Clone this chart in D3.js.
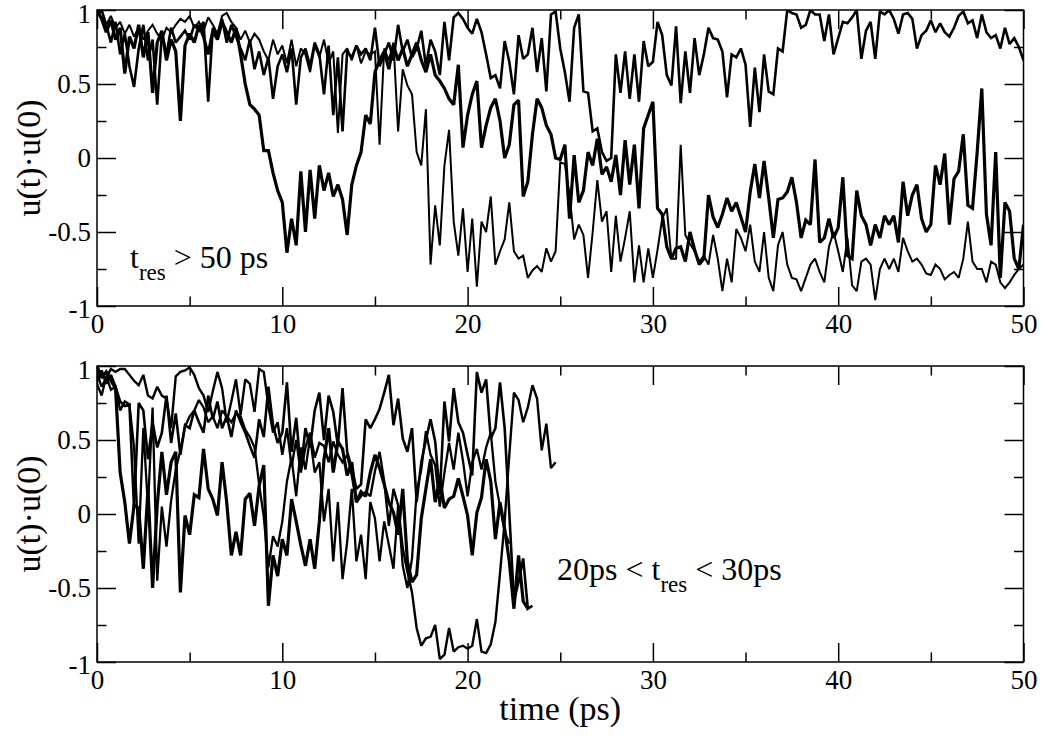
<!DOCTYPE html>
<html>
<head>
<meta charset="utf-8">
<script src="https://cdn.jsdelivr.net/npm/d3@7"></script>
<style>
  body { margin: 0; background: #fff; }
  svg text { font-family: "Liberation Serif", "Times New Roman", serif; fill: #000; }
</style>
</head>
<body>
<div id="chart"></div>
<script>
// sampling step of every trajectory (ps)
const dt = 0.25;

// ---- top panel : t_res > 50 ps (three trajectories, t = 0..50) ----
const topThick = [
  1.00, 0.94, 0.85, 0.93, 0.80, 0.88, 0.57, 0.82, 0.74, 0.90, 0.68, 0.85, 0.44, 0.78, 0.86, 0.66, 0.80, 0.72, 0.25, 0.76,
  0.84, 0.78, 0.90, 0.82, 0.70, 0.86, 0.80, 0.92, 0.85, 0.78, 0.88, 0.70, 0.50, 0.36, 0.33, 0.29, 0.05, 0.05, -0.10, -0.22,
  -0.30, -0.64, -0.41, -0.59, -0.09, -0.50, -0.08, -0.41, -0.05, -0.22, -0.10, -0.26, -0.18, -0.28, -0.52, -0.18, -0.05, 0.04, 0.29, 0.23,
  0.58, 0.66, 0.72, 0.60, 0.76, 0.66, 0.74, 0.62, 0.70, 0.78, 0.66, 0.58, 0.70, 0.56, 0.52, 0.47, 0.40, 0.36, 0.63, 0.07,
  0.29, 0.43, 0.52, 0.07, 0.22, 0.34, 0.40, 0.25, 0.00, 0.09, 0.36, 0.39, -0.26, -0.16, 0.16, 0.40, 0.34, 0.22, 0.16, 0.00,
  -0.01, 0.09, -0.41, 0.02, -0.30, -0.22, 0.04, -0.05, 0.13, -0.11, -0.06, -0.16, 0.02, -0.25, 0.12, -0.18, 0.09, -0.34, 0.20, 0.29,
  0.38, -0.34, -0.38, -0.60, -0.68, -0.61, -0.60, -0.70, -0.50, -0.62, -0.72, -0.68, -0.25, -0.40, -0.47, -0.38, -0.27, -0.36, -0.30, -0.40,
  -0.50, -0.23, -0.04, -0.27, -0.02, -0.27, -0.54, -0.28, -0.27, -0.23, -0.13, -0.30, -0.54, -0.42, -0.45, -0.01, -0.57, -0.54, -0.41, -0.54,
  -0.47, -0.13, -0.66, -0.68, -0.22, -0.39, -0.45, -0.59, -0.45, -0.54, -0.39, -0.45, -0.39, -0.57, -0.16, -0.39, -0.25, -0.18, -0.41, -0.50,
  -0.45, -0.05, -0.18, 0.03, -0.45, -0.14, -0.09, 0.16, -0.32, -0.34, 0.04, 0.47, -0.38, -0.59, 0.04, -0.81, -0.30, -0.36, -0.68, -0.75,
  -0.45
];
const topThin = [
  0.98, 0.95, 0.90, 0.96, 0.88, 0.92, 0.84, 0.90, 0.82, 0.88, 0.80, 0.86, 0.90, 0.84, 0.80, 0.88, 0.85, 0.90, 0.94, 0.92,
  0.96, 0.88, 0.92, 0.86, 0.95, 0.90, 0.84, 0.96, 0.98, 0.92, 0.88, 0.80, 0.86, 0.78, 0.84, 0.80, 0.72, 0.66, 0.80, 0.70,
  0.76, 0.64, 0.80, 0.62, 0.74, 0.70, 0.58, 0.76, 0.68, 0.80, 0.64, 0.72, 0.17, 0.70, 0.74, 0.66, 0.76, 0.64, 0.72, 0.70,
  0.72, 0.09, 0.74, 0.66, 0.78, 0.18, 0.60, 0.49, 0.43, 0.04, -0.05, 0.33, -0.72, -0.32, -0.59, -0.05, 0.19, -0.43, -0.66, -0.34,
  -0.77, -0.41, -0.87, -0.43, -0.50, -0.26, -0.72, -0.63, -0.55, -0.30, -0.63, -0.68, -0.66, -0.81, -0.76, -0.73, -0.77, -0.61, -0.70, -0.63,
  -0.03, -0.04, -0.25, -0.55, -0.45, -0.52, -0.81, -0.50, -0.15, -0.43, -0.36, -0.77, -0.39, -0.70, -0.54, -0.36, -0.84, -0.59, -0.84, -0.61,
  -0.81, -0.62, -0.41, -0.34, -0.68, -0.68, 0.09, -0.52, -0.58, -0.63, -0.70, -0.66, -0.72, -0.52, -0.68, -0.90, -0.68, -0.84, -0.48, -0.54,
  -0.63, -0.45, -0.70, -0.77, -0.50, -0.81, -0.90, -0.59, -0.50, -0.72, -0.81, -0.82, -0.90, -0.81, -0.72, -0.68, -0.77, -0.84, -0.60, -0.50,
  -0.63, -0.77, -0.54, -0.86, -0.90, -0.70, -0.68, -0.72, -0.96, -0.75, -0.68, -0.75, -0.68, -0.77, -0.54, -0.63, -0.70, -0.68, -0.72, -0.78,
  -0.79, -0.72, -0.75, -0.82, -0.79, -0.77, -0.81, -0.68, -0.43, -0.70, -0.75, -0.75, -0.84, -0.70, -0.72, -0.84, -0.88, -0.84, -0.79, -0.75,
  -0.72
];
const topUpper = [
  0.96, 1.00, 0.90, 0.78, 0.92, 0.70, 0.84, 0.62, 0.48, 0.74, 0.90, 0.66, 0.80, 0.36, 0.84, 0.70, 0.88, 0.78, 0.82, 0.86,
  0.80, 0.90, 0.86, 0.92, 0.38, 0.88, 0.82, 0.94, 0.78, 0.90, 0.82, 0.74, 0.66, 0.80, 0.60, 0.72, 0.56, 0.68, 0.40, 0.62,
  0.70, 0.58, 0.74, 0.36, 0.68, 0.74, 0.62, 0.78, 0.70, 0.43, 0.76, 0.29, 0.68, 0.18, 0.72, 0.68, 0.76, 0.70, 0.74, 0.66,
  0.88, 0.62, 0.70, 0.78, 0.66, 0.90, 0.72, 0.80, 0.68, 0.74, 0.86, 0.62, 0.80, 0.72, 0.56, 0.92, 0.66, 0.95, 0.98, 0.94,
  0.88, 0.84, 0.94, 0.85, 0.70, 0.54, 0.56, 0.47, 0.79, 0.65, 0.43, 0.83, 0.67, 0.70, 0.88, 0.58, 0.81, 0.45, 0.97, 0.99,
  0.74, 0.58, 0.38, 0.88, 0.97, 0.45, 0.44, 0.18, 0.20, 0.04, -0.02, 0.00, 0.70, 0.44, 0.72, 0.40, 0.70, 0.38, 0.79, 0.62,
  0.65, 0.92, 0.83, 0.56, 0.49, 0.89, 0.37, 0.72, 0.44, 0.81, 0.56, 0.70, 0.88, 0.81, 0.80, 0.72, 0.41, 0.70, 0.68, 0.74,
  0.63, 0.21, 0.61, 0.31, 0.70, 0.45, 0.43, 0.74, 0.72, 1.00, 0.98, 0.97, 0.88, 0.90, 1.00, 0.97, 0.97, 0.79, 0.97, 0.70,
  0.81, 0.92, 0.91, 0.95, 1.00, 0.67, 0.86, 0.92, 0.67, 0.99, 0.97, 1.00, 0.94, 0.84, 0.97, 0.98, 0.94, 0.74, 0.83, 0.86,
  0.93, 0.85, 0.91, 0.85, 0.82, 0.88, 0.96, 0.99, 0.91, 0.93, 0.81, 0.97, 0.85, 0.81, 0.83, 0.74, 0.88, 0.77, 0.81, 0.75,
  0.66
];

// ---- bottom panel : 20ps < t_res < 30ps (four trajectories, each stops at its t_res) ----
const botDeep = [
  0.95, 0.86, 0.92, 0.98, 0.96, 0.98, 0.98, 0.94, 0.90, 0.87, 0.94, 0.80, 0.78, 0.86, 0.80, 0.78, 0.58, 0.93, 0.96, 0.97,
  0.99, 0.94, 0.85, 0.80, 0.69, 0.83, 0.96, 0.85, 0.62, 0.76, 0.91, 0.67, 0.91, 0.88, 0.69, 0.98, 0.96, 0.73, 0.55, 0.62,
  0.40, 0.58, 0.32, 0.50, 0.28, 0.45, 0.55, 0.38, 0.48, 0.46, 0.35, 0.49, 0.40, 0.35, 0.40, 0.26, 0.08, 0.12, 0.15, 0.12,
  0.29, 0.42, 0.22, -0.08, 0.17, 0.06, -0.23, -0.39, -0.53, -0.77, -0.89, -0.84, -0.83, -0.75, -0.98, -0.95, -0.77, -0.93, -0.90, -0.89,
  -0.91, -0.89, -0.71, -0.93, -0.94, -0.88, -0.73, -0.40, -0.05, 0.40, 0.82, 0.77, 0.62, 0.72, 0.87, 0.78, 0.43, 0.61, 0.31, 0.35
];
const botThick = [
  1.00, 0.92, 0.96, 0.90, 0.85, 0.28, 0.08, -0.20, 0.06, 0.04, -0.37, 0.17, -0.50, 0.06, 0.42, 0.13, 0.35, 0.42, -0.53, -0.01,
  -0.14, 0.13, 0.11, 0.44, 0.17, 0.10, -0.01, 0.35, 0.08, -0.28, -0.12, -0.28, 0.10, 0.14, -0.08, 0.19, 0.33, -0.62, -0.28, -0.42,
  -0.17, -0.28, 0.10, -0.05, -0.21, -0.35, -0.17, -0.37, -0.05, 0.37, 0.58, 0.28, 0.49, 0.44, 0.26, 0.35, 0.08, 0.15, 0.12, 0.28,
  0.40, 0.31, 0.20, 0.08, 0.01, -0.14, 0.17, -0.32, -0.46, -0.41, -0.03, 0.17, 0.37, 0.08, 0.24, 0.04, 0.10, 0.12, 0.24, 0.12,
  -0.01, -0.28, 0.01, 0.11, 0.37, 0.22, -0.17, 0.08, -0.10, -0.32, -0.64, -0.28, -0.59, -0.64
];
const botUpper = [
  0.90, 0.97, 0.88, 0.94, 0.86, 0.76, 0.73, 0.74, 0.04, 0.75, 0.70, 0.37, 0.62, 0.45, 0.55, 0.80, 0.48, 0.68, 0.40, 0.60,
  0.58, 0.70, 0.62, 0.55, 0.80, 0.64, 0.76, 0.58, 0.66, 0.52, 0.70, 0.62, 0.55, 0.46, 0.38, 0.64, 0.52, 0.86, 0.60, 0.48,
  0.55, 0.89, 0.42, 0.65, 0.30, 0.58, 0.45, 0.70, 0.82, 0.50, 0.80, 0.69, 0.46, 0.85, 0.42, 0.31, 0.17, 0.20, 0.64, 0.58,
  0.64, 0.71, 0.82, 0.94, 0.60, 0.78, 0.51, 0.42, 0.58, 0.08, 0.35, 0.50, 0.64, 0.49, 0.13, 0.76, 0.49, 0.85, 0.62, 0.55,
  0.40, 0.26, 0.96, 0.82, 0.91, 0.51, 0.58, 0.89, 0.58, 0.01, -0.59, -0.46, -0.30, -0.64, -0.62
];
const botMid = [
  0.88, 0.80, 0.93, 0.84, 0.86, 0.70, 0.76, 0.74, 0.45, -0.20, 0.58, 0.05, 0.72, -0.45, 0.05, -0.22, 0.09, 0.30, 0.43, 0.59,
  0.66, 0.70, 0.77, 0.72, 0.62, 0.66, 0.58, 0.70, 0.66, 0.62, 0.68, 0.66, 0.57, 0.52, 0.45, 0.20, -0.02, -0.36, -0.15, -0.22,
  -0.05, 0.22, 0.38, 0.12, 0.45, 0.30, 0.52, 0.28, 0.35, -0.05, 0.17, -0.32, 0.08, -0.44, -0.19, 0.17, -0.32, -0.14, -0.44, 0.08,
  -0.03, -0.32, -0.05, -0.21, -0.37, 0.06, -0.35, -0.50, -0.30, 0.15, 0.30, 0.56, 0.40, 0.33, 0.05, 0.28, 0.48, 0.30, 0.55, 0.36,
  0.12, 0.35, 0.44, 0.30, 0.45, 0.55, 0.22, 0.05, -0.12, -0.20
];

// axes
const xTicks = [0, 10, 20, 30, 40, 50];
const xMinor = [5, 15, 25, 35, 45];
const yTicks = [-1, -0.5, 0, 0.5, 1];
const yTickLabels = ["-1", "-0.5", "0", "0.5", "1"];
const yMinor = [-0.75, -0.25, 0.25, 0.75];

const W = 1050, H = 741;
const svg = d3.select("#chart").append("svg")
    .attr("width", W).attr("height", H)
    .style("display", "block").style("background", "#fff");

const x = d3.scaleLinear().domain([0, 50]).range([97, 1023.5]);

function drawPanel(id, y, series) {
    const g = svg.append("g");
    const [y0, y1] = [y(1), y(-1)];

    g.append("clipPath").attr("id", id)
        .append("rect")
        .attr("x", x(0)).attr("y", y0)
        .attr("width", x(50) - x(0)).attr("height", y1 - y0);

    // trajectories
    const line = d3.line().x((d, i) => x(i * dt)).y(d => y(d));
    g.append("g").attr("clip-path", `url(#${id})`)
        .selectAll("path")
        .data(series)
        .join("path")
        .attr("fill", "none")
        .attr("stroke", "#000")
        .attr("stroke-width", d => d.w)
        .attr("stroke-linejoin", "miter")
        .attr("stroke-miterlimit", 2)
        .attr("d", d => line(d.values));

    const styleAxis = sel => {
        sel.select(".domain").remove();
        sel.selectAll("line").attr("stroke", "#000").attr("stroke-width", 1.5);
        sel.attr("font-family", null).attr("font-size", 27);
        sel.selectAll("text").attr("fill", "#000");
    };

    g.append("g").attr("transform", `translate(0,${y1})`)
        .call(d3.axisBottom(x).tickValues(xTicks).tickSize(-19).tickPadding(8).tickFormat(d3.format("d")))
        .call(styleAxis);
    g.append("g").attr("transform", `translate(0,${y1})`)
        .call(d3.axisBottom(x).tickValues(xMinor).tickSize(-9.5).tickFormat(""))
        .call(styleAxis);
    g.append("g").attr("transform", `translate(0,${y0})`)
        .call(d3.axisTop(x).tickValues(xTicks).tickSize(-19).tickFormat(""))
        .call(styleAxis);
    g.append("g").attr("transform", `translate(0,${y0})`)
        .call(d3.axisTop(x).tickValues(xMinor).tickSize(-9.5).tickFormat(""))
        .call(styleAxis);

    const left = g.append("g").attr("transform", `translate(${x(0)},0)`)
        .call(d3.axisLeft(y).tickValues(yTicks).tickSize(-19).tickPadding(6).tickFormat((d, i) => yTickLabels[i]))
        .call(styleAxis);
    // the end labels sit a little lower than their ticks in the original
    left.selectAll("text").attr("dy", d => d === 1 ? "0.45em" : d === -1 ? "0.42em" : "0.32em");
    g.append("g").attr("transform", `translate(${x(0)},0)`)
        .call(d3.axisLeft(y).tickValues(yMinor).tickSize(-9.5).tickFormat(""))
        .call(styleAxis);
    g.append("g").attr("transform", `translate(${x(50)},0)`)
        .call(d3.axisRight(y).tickValues(yTicks).tickSize(-19).tickFormat(""))
        .call(styleAxis);
    g.append("g").attr("transform", `translate(${x(50)},0)`)
        .call(d3.axisRight(y).tickValues(yMinor).tickSize(-9.5).tickFormat(""))
        .call(styleAxis);

    // frame
    g.append("rect")
        .attr("x", x(0)).attr("y", y0)
        .attr("width", x(50) - x(0)).attr("height", y1 - y0)
        .attr("fill", "none").attr("stroke", "#000").attr("stroke-width", 1.5);

    // y title
    g.append("text")
        .attr("transform", `translate(40,${(y0 + y1) / 2}) rotate(-90)`)
        .attr("text-anchor", "middle")
        .attr("font-size", 34)
        .text("u(t)\u00B7u(0)");

    return g;
}

const yTop = d3.scaleLinear().domain([-1, 1]).range([306, 10]);
const yBot = d3.scaleLinear().domain([-1, 1]).range([662, 366]);

const gTop = drawPanel("clipTop", yTop, [
    { values: topThin, w: 2 },
    { values: topUpper, w: 2.6 },
    { values: topThick, w: 3.2 }
]);
const gBot = drawPanel("clipBot", yBot, [
    { values: botDeep, w: 2.4 },
    { values: botMid, w: 2.3 },
    { values: botUpper, w: 2.6 },
    { values: botThick, w: 3.2 }
]);

// annotations
const noteTop = gTop.append("text").attr("x", 130).attr("y", 268).attr("font-size", 32);
noteTop.append("tspan").text("t");
noteTop.append("tspan").attr("dy", 12).attr("font-size", 23).text("res");
noteTop.append("tspan").attr("dy", -12).text(" > 50 ps");

const noteBot = gBot.append("text").attr("x", 557).attr("y", 580).attr("font-size", 32);
noteBot.append("tspan").text("20ps < t");
noteBot.append("tspan").attr("dy", 12).attr("font-size", 23).text("res");
noteBot.append("tspan").attr("dy", -12).text(" < 30ps");

// x title
svg.append("text")
    .attr("x", (x(0) + x(50)) / 2).attr("y", 720)
    .attr("text-anchor", "middle")
    .attr("font-size", 34)
    .text("time (ps)");
</script>
</body>
</html>
